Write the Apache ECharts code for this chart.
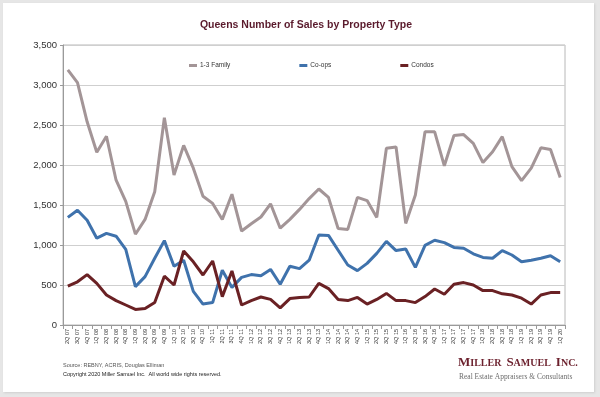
<!DOCTYPE html>
<html>
<head>
<meta charset="utf-8">
<script src="https://cdn.jsdelivr.net/npm/echarts@6/dist/echarts.min.js"></script>
<style>
  html, body { margin: 0; padding: 0; background: #e6e6e6; }
  .panel { position: absolute; left: 3px; top: 3px; width: 591px; height: 389px; background: #fff; box-shadow: 1px 1px 2px #cfcfcf; }
  .chart-container { position: absolute; left: 0; top: 0; width: 600px; height: 397px; }
</style>
</head>
<body>
<div class="panel"></div>
<div class="chart-container" id="main"></div>
<script>
// quarter labels
const quarters = [
  '2Q 07','3Q 07','4Q 07',
  '1Q 08','2Q 08','3Q 08','4Q 08',
  '1Q 09','2Q 09','3Q 09','4Q 09',
  '1Q 10','2Q 10','3Q 10','4Q 10',
  '1Q 11','2Q 11','3Q 11','4Q 11',
  '1Q 12','2Q 12','3Q 12','4Q 12',
  '1Q 13','2Q 13','3Q 13','4Q 13',
  '1Q 14','2Q 14','3Q 14','4Q 14',
  '1Q 15','2Q 15','3Q 15','4Q 15',
  '1Q 16','2Q 16','3Q 16','4Q 16',
  '1Q 17','2Q 17','3Q 17','4Q 17',
  '1Q 18','2Q 18','3Q 18','4Q 18',
  '1Q 19','2Q 19','3Q 19','4Q 19',
  '1Q 20'
];
// number of sales per type
const family = [3190,3030,2540,2160,2360,1810,1545,1135,1320,1665,2590,1875,2245,1960,1610,1520,1320,1635,1175,1265,1350,1515,1210,1320,1445,1580,1700,1595,1205,1195,1595,1555,1345,2210,2225,1270,1625,2415,2415,1990,2370,2380,2270,2030,2165,2355,1980,1805,1960,2215,2195,1845];
const coops  = [1345,1435,1310,1085,1145,1110,945,480,605,835,1055,735,810,420,262,280,685,470,595,630,615,695,510,735,705,810,1125,1120,935,750,680,770,895,1045,930,950,720,995,1060,1030,970,960,890,845,835,930,875,790,810,835,865,790];
const condos = [485,540,630,520,375,305,250,195,205,280,610,500,925,790,625,800,355,675,250,305,350,320,215,330,345,350,520,455,320,305,345,262,320,395,305,305,280,355,450,385,510,530,500,430,430,390,375,335,262,375,405,405];
const seriesNames = ['1-3 Family', 'Co-ops', 'Condos'];
const colors = ['#a39597', '#3f72ac', '#6a2124'];

const myChart = echarts.init(document.getElementById('main'));
const font = 'Liberation Sans, Arial, sans-serif';
const serif = 'Liberation Serif, Times New Roman, serif';

function makeLine(name, data, color) {
  return {
    name: name,
    type: 'line',
    data: data,
    symbol: 'none',
    lineStyle: { width: 3, color: color },
    itemStyle: { color: color }
  };
}

const option = {
  animation: false,
  title: [
    {
      text: 'Queens Number of Sales by Property Type',
      left: 306,
      textAlign: 'center',
      top: 20,
      padding: 0,
      textStyle: { fontFamily: font, fontSize: 10.5, fontWeight: 'bold', color: '#5a1a2c' }
    },
    {
      // logo
      text: '{b|M}{s|ILLER} {b|S}{s|AMUEL} {b|I}{s|NC.}',
      left: 458,
      top: 354,
      padding: 0,
      textStyle: {
        rich: {
          b: { fontFamily: serif, fontSize: 13, color: '#6b1f2c' },
          s: { fontFamily: serif, fontSize: 10, color: '#6b1f2c' }
        }
      }
    },
    {
      text: 'Real Estate Appraisers & Consultants',
      left: 459,
      top: 373,
      padding: 0,
      textStyle: { fontFamily: serif, fontSize: 7.5, fontWeight: 'normal', color: '#6d6d6d' }
    }
  ],
  legend: {
    data: seriesNames,
    left: 189,
    top: 62,
    padding: 0,
    itemGap: 69,
    itemWidth: 8,
    itemHeight: 3,
    icon: 'rect',
    textStyle: { fontFamily: font, fontSize: 6.5, color: '#333', padding: [0, 0, 0, -2] }
  },
  grid: {
    left: 63,
    right: 35,
    top: 45,
    bottom: 72,
    show: true,
    borderColor: '#b8b8b8',
    borderWidth: 1
  },
  xAxis: {
    type: 'category',
    data: quarters,
    boundaryGap: true,
    axisLine: { lineStyle: { color: '#9a9a9a', width: 1 } },
    axisTick: { show: true, interval: 0, length: 4, lineStyle: { color: '#9a9a9a' } },
    axisLabel: { interval: 0, rotate: 90, fontSize: 5.5, fontFamily: font, color: '#333', margin: 4 }
  },
  yAxis: {
    type: 'value',
    min: 0,
    max: 3500,
    interval: 500,
    axisLine: { show: true, lineStyle: { color: '#9a9a9a', width: 1 } },
    axisTick: { show: true, length: 3, lineStyle: { color: '#9a9a9a' } },
    splitLine: { lineStyle: { color: '#cfcfcf', width: 1 } },
    axisLabel: {
      fontSize: 9.5,
      fontFamily: font,
      color: '#333',
      margin: 6,
      formatter: function (v) { return v.toLocaleString('en-US'); }
    }
  },
  graphic: [
    {
      type: 'text',
      left: 63,
      top: 362,
      style: { text: 'Source: REBNY, ACRIS, Douglas Elliman', fontFamily: font, fontSize: 5.5, fill: '#555' }
    },
    {
      type: 'text',
      left: 63,
      top: 371,
      style: { text: 'Copyright 2020 Miller Samuel Inc.  All world wide rights reserved.', fontFamily: font, fontSize: 5.5, fill: '#222' }
    }
  ],
  series: [
    makeLine(seriesNames[0], family, colors[0]),
    makeLine(seriesNames[1], coops, colors[1]),
    makeLine(seriesNames[2], condos, colors[2])
  ]
};
myChart.setOption(option);
</script>
</body>
</html>
